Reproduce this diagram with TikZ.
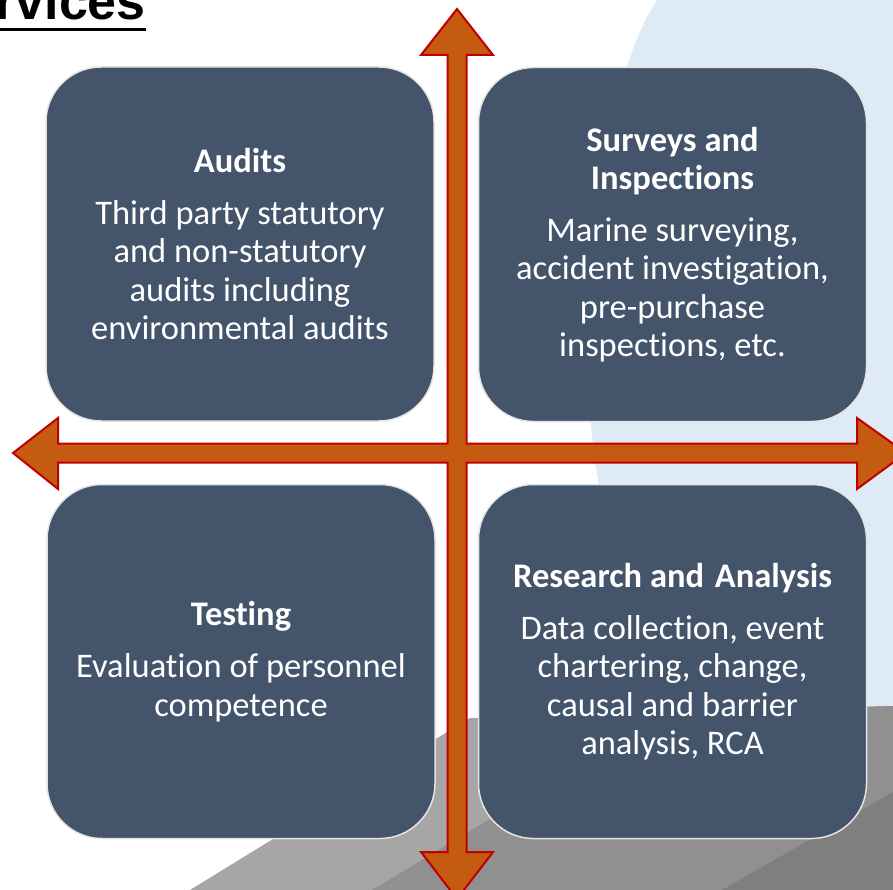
\documentclass[tikz,border=0pt]{standalone}
\usepackage{fontspec}
\setmainfont{Carlito}[Ligatures={NoCommon,NoContextual}]
\newfontfamily\titlefont{Liberation Sans}
\definecolor{boxblue}{HTML}{44546A}
\definecolor{panelborder}{HTML}{E4E4E4}
\definecolor{arrowfill}{HTML}{C55A11}
\definecolor{arrowline}{HTML}{C00000}
\definecolor{bgblue}{HTML}{DEEAF6}
\definecolor{grayA}{HTML}{A6A6A6}
\definecolor{grayB}{HTML}{909090}
\definecolor{grayC}{HTML}{7F7F7F}
\begin{document}
\begin{tikzpicture}[x=1pt,y=-1pt,
  panel/.style={draw=panelborder, line width=1.5pt, fill=boxblue,
    rounded corners=55pt, minimum width=388pt, minimum height=354pt,
    text=white, align=center, inner sep=0pt,
    font=\fontsize{34.5}{38.3}\selectfont},
  quadarrow/.style={fill=arrowfill, draw=arrowline, line width=2pt, line join=miter},
  titletext/.style={font=\titlefont\bfseries\fontsize{52}{60}\selectfont, text=black, inner sep=0pt}]
\useasboundingbox (0,0) rectangle (893,890);
\clip (0,0) rectangle (893,890);
% background
\fill[bgblue] (657,0) .. controls (600,85) and (572,330) .. (598,480) -- (640,720) -- (893,720) -- (893,0) -- cycle;
\fill[grayA] (190,890) -- (470,718) -- (893,706) -- (893,890) -- cycle;
\begin{scope}
  \clip (190,890) -- (470,718) -- (893,706) -- (893,890) -- cycle;
  \fill[grayB] (372,890) -- (893,577) -- (893,890) -- cycle;
  \fill[grayC] (722,890) -- (893,792) -- (893,890) -- cycle;
\end{scope}
% title
\node[titletext, anchor=base east] (title) at (146,19.5) {rvices};
\draw[line width=3pt] (0,29.5) -- (title.east |- 0,29.5);
% quad arrow
\draw[quadarrow] (457,9) -- (493,55) -- (466.5,55) -- (466.5,443.5) -- (857,443.5) -- (857,418)
  -- (906,453) -- (857,489) -- (857,462.5) -- (466.5,462.5) -- (466.5,852) -- (493,852)
  -- (457,899) -- (421,852) -- (447.5,852) -- (447.5,462.5) -- (58,462.5) -- (58,489)
  -- (13,453) -- (58,418) -- (58,443.5) -- (447.5,443.5) -- (447.5,55) -- (421,55) -- cycle;
% panels
\node[panel] (audits) at (240,244) {\textbf{Audits}\\[14pt]Third party statutory\\and non-statutory\\audits including\\environmental audits};
\node[panel] (surveys) at (672.5,244.5) {\textbf{Surveys and}\\\textbf{Inspections}\\[14pt]Marine surveying,\\accident investigation,\\pre-purchase\\inspections, etc.};
\node[panel] (testing) at (241,661.5) {\textbf{Testing}\\[14pt]Evaluation of personnel\\competence};
\node[panel] (research) at (672.5,661.5) {\textbf{Research and\hspace{3pt} Analysis}\\[14pt]Data collection, event\\chartering, change,\\causal and barrier\\analysis, RCA};
\end{tikzpicture}
\end{document}
